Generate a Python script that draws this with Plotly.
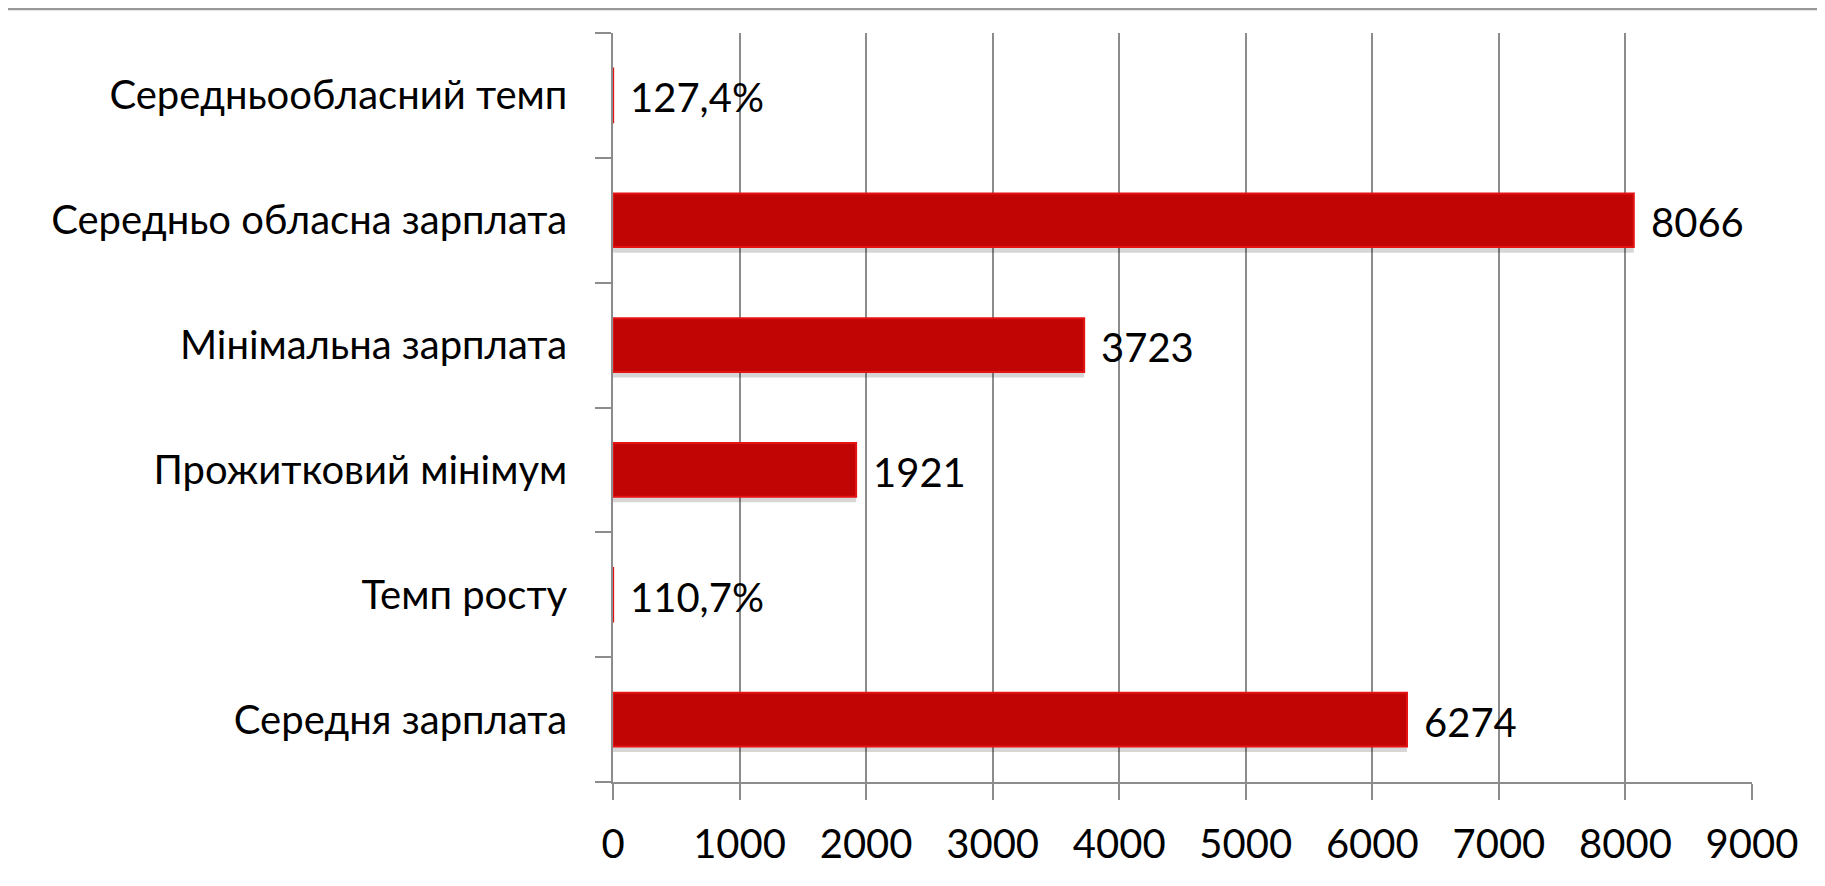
import plotly.graph_objects as go

# data (bottom to top, as drawn)
categories = ['Середня зарплата', 'Темп росту', 'Прожитковий мінімум',
              'Мінімальна зарплата', 'Середньо обласна зарплата', 'Середньообласний темп']
values = [6274, 1.107, 1921, 3723, 8066, 1.274]
labels = ['6274', '110,7%', '1921', '3723', '8066', '127,4%']
x_ticks = [0, 1000, 2000, 3000, 4000, 5000, 6000, 7000, 8000, 9000]

FONT = 'Lato'
GRID = '#8c8c8c'
FS = 40

# the page body has an 8px margin, so the figure is drawn 8px smaller/shifted
fig = go.Figure()
# soft shadow under each bar
fig.add_trace(go.Bar(
    y=categories, x=values, orientation='h',
    width=0.43, offset=-0.26,
    marker=dict(color='rgba(0,0,0,0.16)', line=dict(width=0)),
    hoverinfo='skip',
))
fig.add_trace(go.Bar(
    y=categories, x=values, orientation='h',
    width=0.43, offset=-0.215,
    marker=dict(color='#C10404', line=dict(color='#E41414', width=2)),
    hoverinfo='x+y',
))

# value labels next to the bar ends
for cat, val, lab in zip(categories, values, labels):
    fig.add_annotation(x=val, y=cat, text=lab, showarrow=False,
                       xanchor='left', yanchor='middle', xshift=15, yshift=-2,
                       font=dict(family=FONT, size=FS, color='#000'))

# thin gray rule along the top of the slide
fig.add_shape(type='line', xref='paper', yref='paper',
              x0=-0.54, x1=1.07, y0=1.0325, y1=1.0325,
              line=dict(color='#999999', width=3))

fig.update_layout(
    width=1817, height=878,
    margin=dict(l=605, r=73, t=25, b=104),
    plot_bgcolor='white', paper_bgcolor='white',
    showlegend=False, barmode='overlay',
    font=dict(family=FONT, size=FS, color='#000'),
    xaxis=dict(range=[0, 9000], tickvals=x_ticks, showgrid=True,
               gridcolor=GRID, gridwidth=1.5, showline=True, linecolor=GRID,
               linewidth=1.5, ticks='outside', ticklen=16, tickcolor=GRID,
               tickwidth=1.5, zeroline=False, ticklabelstandoff=10,
               tickfont=dict(size=FS)),
    yaxis=dict(type='category', tickson='boundaries', ticks='outside',
               ticklen=16, tickcolor=GRID, tickwidth=1.5, showgrid=False,
               showline=True, linecolor=GRID, linewidth=1.5,
               ticklabelstandoff=36, tickfont=dict(size=FS)),
)

fig.write_html('out.html')
